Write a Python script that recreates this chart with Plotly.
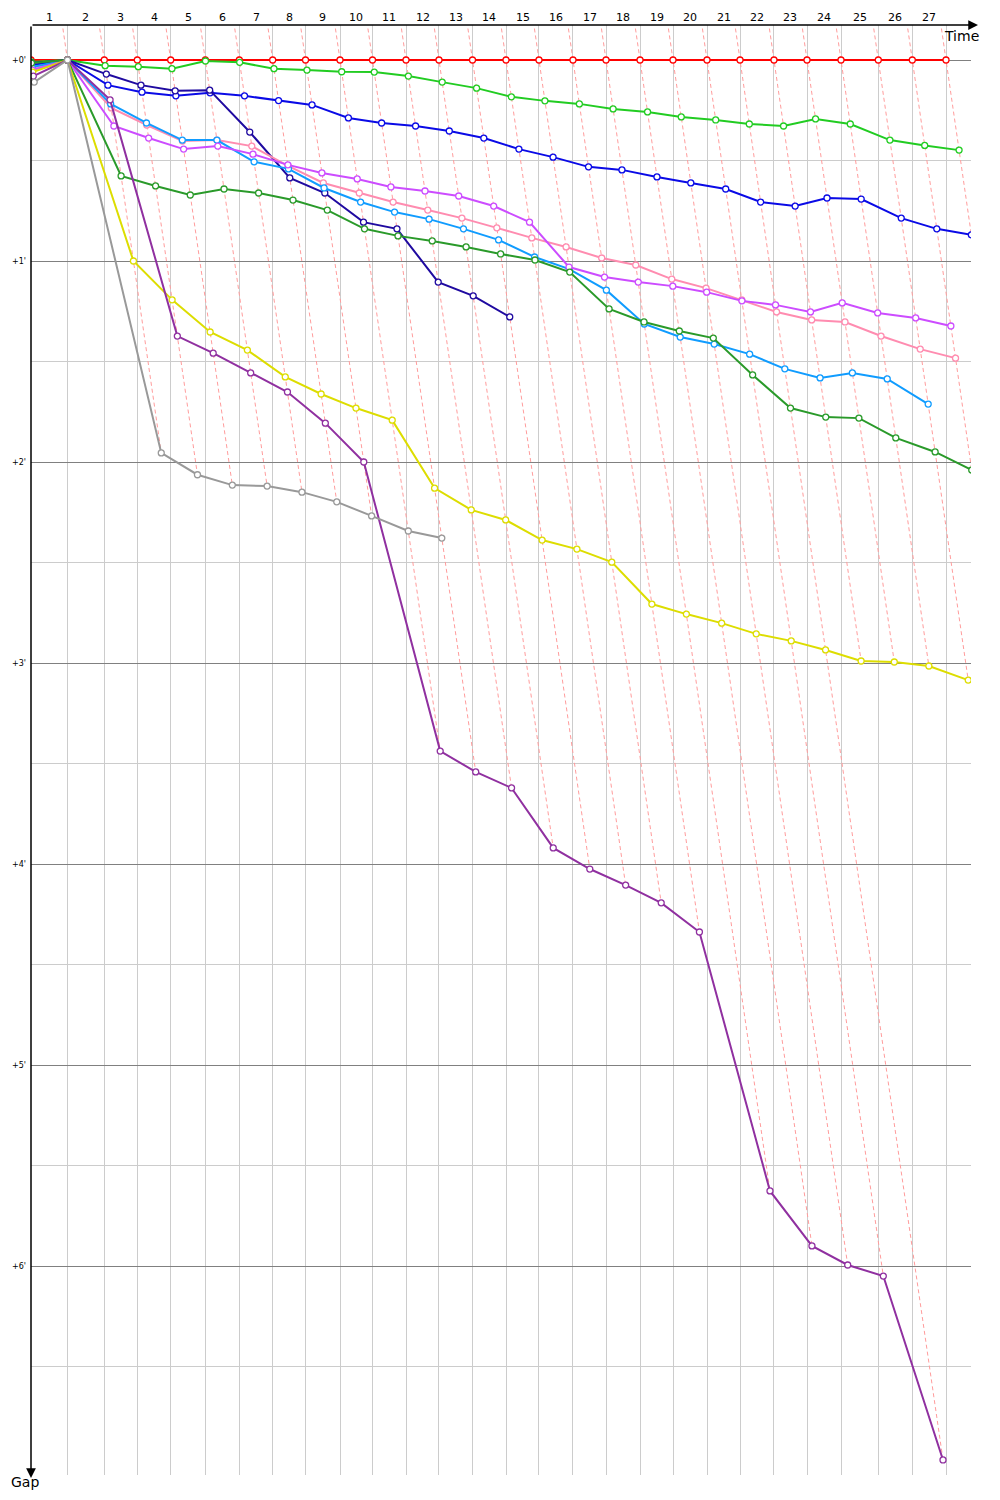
import plotly.graph_objects as go

# ---------------- data ----------------
LAPS = list(range(1, 28))
LAP_LABELS = [str(n) for n in LAPS]
# leader lap times (seconds)
LEADER_LAP_S = [75.1, 75.8, 68.0, 68.7, 71.3, 70.0, 68.7, 67.6, 71.0, 66.9,
                69.0, 67.9, 69.0, 69.0, 67.9, 70.0, 68.0, 70.0, 67.9, 70.0,
                68.0, 69.9, 68.0, 70.0, 76.8, 70.0, 69.4]

# gaps to leader in seconds, index = lap (0 = start)
GAP_RED = [0.0, 0.0, 0.0, 0.0, 0.0, 0.0, 0.0, 0.0, 0.0, 0.0, 0.0, 0.0, 0.0, 0.0,
           0.0, 0.0, 0.0, 0.0, 0.0, 0.0, 0.0, 0.0, 0.0, 0.0, 0.0, 0.0, 0.0, 0.0]
GAP_LTGREEN = [0.6, 0.0, 1.7, 2.0, 2.6, 0.3, 0.7, 2.6, 3.0, 3.5, 3.6, 4.8, 6.6, 8.4,
               11.0, 12.2, 13.1, 14.6, 15.5, 17.0, 17.9, 19.1, 19.7, 17.6, 19.1,
               23.9, 25.5, 26.9]
GAP_BLUE = [1.5, 0.0, 7.5, 9.6, 10.7, 9.8, 10.7, 12.1, 13.4, 17.3, 18.8, 19.7, 21.2,
            23.3, 26.6, 29.0, 31.9, 32.8, 34.9, 36.7, 38.5, 42.4, 43.6, 41.2, 41.5,
            47.2, 50.4, 52.2]
GAP_NAVY = [0.9, 0.0, 4.2, 7.5, 9.2, 9.0, 21.5, 35.2, 39.7, 48.4, 50.4, 66.3, 70.4, 76.7]
GAP_PINK = [2.4, 0.0, 14.3, 19.4, 24.2, 23.9, 25.7, 31.6, 36.7, 39.7, 42.4, 44.8, 47.2,
            50.1, 53.1, 55.8, 59.1, 61.2, 65.4, 68.1, 71.6, 75.2, 77.6, 78.2, 82.4,
            86.3, 89.0]
GAP_CYAN = [2.1, 0.0, 13.1, 18.8, 23.9, 23.9, 30.4, 32.5, 38.2, 42.4, 45.4, 47.5, 50.4,
            53.7, 58.8, 62.4, 68.7, 78.8, 82.7, 84.8, 87.8, 92.2, 94.9, 93.4, 95.2,
            102.7]
GAP_MAGENTA = [3.0, 0.0, 19.7, 23.3, 26.6, 25.7, 28.1, 31.3, 33.7, 35.5, 37.9, 39.1,
               40.6, 43.6, 48.4, 61.8, 64.8, 66.3, 67.5, 69.3, 71.9, 73.1, 75.2, 72.5,
               75.5, 77.0, 79.4]
GAP_DKGREEN = [0.9, 0.0, 34.6, 37.6, 40.3, 38.5, 39.7, 41.8, 44.8, 50.4, 52.5, 54.0,
               55.8, 57.9, 59.7, 63.3, 74.3, 78.2, 80.9, 83.0, 94.0, 103.9, 106.6,
               106.9, 112.8, 117.0, 122.4]
GAP_YELLOW = [3.6, 0.0, 60.0, 71.6, 81.2, 86.6, 94.6, 99.7, 103.9, 107.5, 127.8, 134.3,
              137.3, 143.3, 146.0, 149.9, 162.4, 165.4, 168.1, 171.3, 173.4, 176.1,
              179.4, 179.7, 180.9, 185.1]
GAP_PURPLE = [4.8, 0.0, 11.9, 82.4, 87.5, 93.4, 99.1, 108.4, 120.0, 206.3, 212.5, 217.3,
              235.2, 241.5, 246.3, 251.6, 260.3, 337.6, 354.0, 359.7, 363.0, 417.9]
GAP_GRAY = [6.6, 0.0, 117.3, 123.8, 126.9, 127.2, 129.0, 131.9, 136.1, 140.6, 142.7]

Y_TICK_VALUES = [0, 60, 120, 180, 240, 300, 360]
Y_TICK_LABELS = ["+0'", "+1'", "+2'", "+3'", "+4'", "+5'", "+6'"]
Y_MINOR_VALUES = [30, 90, 150, 210, 270, 330, 390]

SERIES = [GAP_RED, GAP_LTGREEN, GAP_BLUE, GAP_NAVY, GAP_PINK, GAP_CYAN,
          GAP_MAGENTA, GAP_DKGREEN, GAP_YELLOW, GAP_PURPLE, GAP_GRAY]
COLORS = ["#ff0000", "#22cc22", "#0a0ae6", "#1f0aa0", "#ff8cb0", "#109cff",
          "#cc4cff", "#2a9a2a", "#dddd00", "#9030a0", "#999999"]

# ---------------- geometry (window pixel coordinates) ----------------
BODY = 8                       # default page body margin
W, H = 1000 - 2 * BODY, 1500 - 2 * BODY
PLOT_L, PLOT_T, PLOT_R, PLOT_B = 31, 25, 971, 1475
ML, MT = PLOT_L - BODY, PLOT_T - BODY
MR, MB = (BODY + W) - PLOT_R, (BODY + H) - PLOT_B
PW, PH = PLOT_R - PLOT_L, PLOT_B - PLOT_T
X_PX_PER_S = 0.4857
Y_PX_PER_S = 201.0 / 60.0
X_MAX = PW / X_PX_PER_S
Y_TOP = -(60 - PLOT_T) / Y_PX_PER_S
Y_BOT = Y_TOP + PH / Y_PX_PER_S


def px(xw):
    return (xw - PLOT_L) / PW


def py(yw):
    return (PLOT_B - yw) / PH


cum = [0.0]
for lt in LEADER_LAP_S:
    cum.append(cum[-1] + lt)

fig = go.Figure()

# dashed lap lines
dx, dy = [], []
for lap in LAPS:
    gaps = [s[lap] for s in SERIES if len(s) > lap]
    gmax = max(gaps)
    ystart = Y_TOP * 0.9
    dx += [cum[lap] + ystart, cum[lap] + gmax, None]
    dy += [ystart, gmax, None]
fig.add_trace(go.Scatter(x=dx, y=dy, mode="lines", hoverinfo="skip",
                         line=dict(color="#ff9c9c", width=1, dash="4px,3px"),
                         showlegend=False))

for s, c in zip(SERIES, COLORS):
    xs = [cum[i] + g for i, g in enumerate(s)]
    fig.add_trace(go.Scatter(x=xs, y=s, mode="lines+markers",
                             line=dict(color=c, width=2),
                             marker=dict(symbol="circle", size=6, color="white",
                                         line=dict(color=c, width=1.3)),
                             showlegend=False))

annotations = []
for lap, lab in zip(LAPS, LAP_LABELS):
    annotations.append(dict(x=(cum[lap - 1] + cum[lap]) / 2, xref="x",
                            y=py(17.5), yref="paper",
                            text=lab, showarrow=False, xanchor="center", yanchor="middle",
                            font=dict(family="DejaVu Sans", size=11, color="black")))
# axis arrows
annotations.append(dict(x=px(978), y=1, xref="paper", yref="paper",
                        ax=-(978 - PLOT_L), ay=0, axref="pixel", ayref="pixel",
                        text="", showarrow=True, arrowhead=2, arrowsize=1.3,
                        arrowwidth=1.5, arrowcolor="black"))
annotations.append(dict(x=0, y=py(1478), xref="paper", yref="paper",
                        ax=0, ay=-(1478 - PLOT_T), axref="pixel", ayref="pixel",
                        text="", showarrow=True, arrowhead=2, arrowsize=1.3,
                        arrowwidth=1.5, arrowcolor="black"))
annotations.append(dict(x=px(942), y=py(36), xref="paper", yref="paper",
                        text="Time", showarrow=False, xanchor="left", yanchor="middle",
                        font=dict(family="DejaVu Sans", size=14, color="black")))
annotations.append(dict(x=px(25), y=py(1492), xref="paper", yref="paper",
                        text="Gap", showarrow=False, xanchor="center", yanchor="bottom",
                        font=dict(family="DejaVu Sans", size=14, color="black")))

fig.update_layout(
    width=W, height=H,
    margin=dict(l=ML, r=MR, t=MT, b=MB, autoexpand=False),
    plot_bgcolor="white", paper_bgcolor="white",
    showlegend=False,
    annotations=annotations,
    xaxis=dict(range=[0, X_MAX], tickvals=cum[1:], showticklabels=False, ticks="",
               showgrid=True, gridcolor="#cccccc", gridwidth=1, zeroline=False,
               showline=False, fixedrange=True, automargin=False),
    yaxis=dict(range=[Y_BOT, Y_TOP], tickvals=Y_TICK_VALUES, ticktext=Y_TICK_LABELS,
               showgrid=True, gridcolor="#808080", gridwidth=1, zeroline=False,
               showline=False, ticks="", ticklabelstandoff=4, automargin=False,
               tickfont=dict(family="DejaVu Sans", size=8, color="black"),
               minor=dict(tickvals=Y_MINOR_VALUES, showgrid=True, gridcolor="#cccccc",
                          gridwidth=1, ticks="")),
)

fig.write_html("out.html")
